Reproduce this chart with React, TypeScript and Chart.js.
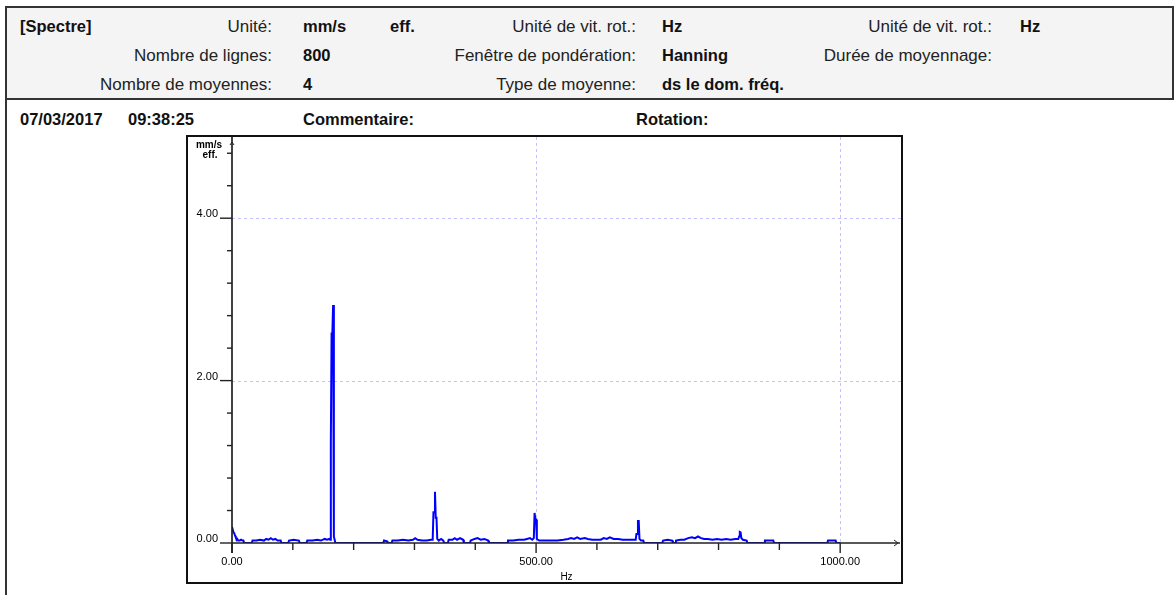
import React, { useEffect, useRef } from "react";
import { Chart, registerables } from "chart.js";

Chart.register(...registerables);

// ---- Data ----
const frequencies: number[] = [
  0, 1.25, 2.5, 3.75, 5, 6.25, 7.5, 8.75, 10, 12.5, 15, 17.5, 18.75, 20,
  32.5, 33.75, 40, 46.25, 52.5, 56.25, 60, 63.75, 67.5, 71.25, 75, 80, 81.25,
  92.5, 93.75, 101.25, 110, 111.25,
  122.5, 123.75, 132.5, 140, 146.25, 152.5, 156.25, 160, 161.25,
  162.5, 163.75, 165, 166.25, 167.5, 168.75, 170,
  248.75, 250, 255, 256.25,
  262.5, 263.75, 272.5, 281.25, 290, 297.5, 301.25, 305, 312.5, 320, 327.5, 330,
  331.25, 332.5, 333.75, 335, 336.25, 337.5, 340, 343.75, 347.5, 348.75,
  355, 356.25, 362.5, 366.25, 370, 375, 380, 381.25,
  391.25, 392.5, 398.75, 403.75, 408.75, 415, 421.25, 422.5,
  452.5, 453.75, 462.5, 471.25, 480, 485, 490, 493.75, 496.25,
  497.5, 498.75, 500, 501.25,
  505, 515, 525, 535, 545, 552.5, 557.5, 562.5, 567.5, 572.5, 580, 585, 592.5,
  600, 606.25, 611.25, 616.25, 621.25, 627.5, 635, 642.5, 650, 657.5, 663.75,
  665, 666.25, 667.5, 668.75, 670, 672.5, 676.25, 677.5,
  707.5, 708.75, 716.25, 723.75, 725,
  728.75, 730, 737.5, 743.75, 750, 756.25, 761.25, 766.25, 771.25, 776.25,
  782.5, 790, 797.5, 805, 812.5, 820, 827.5, 832.5,
  833.75, 835, 836.25, 837.5, 840, 846.25, 847.5,
  875, 876.25, 890, 891.25,
  978.75, 980, 992.5, 993.75, 1000,
];

const amplitudes: number[] = [
  0.2, 0.2, 0.13, 0.12, 0.09, 0.07, 0.04, 0.05, 0.03, 0.03, 0.04, 0.03, 0.03, 0,
  0, 0.03, 0.03, 0.04, 0.03, 0.05, 0.04, 0.06, 0.04, 0.05, 0.03, 0.03, 0,
  0, 0.03, 0.04, 0.03, 0,
  0, 0.03, 0.03, 0.04, 0.03, 0.05, 0.04, 0.05, 0.04,
  1.24, 2.58, 2.58, 2.93, 0.08, 0.04, 0,
  0, 0.03, 0.02, 0,
  0, 0.03, 0.03, 0.04, 0.03, 0.04, 0.06, 0.04, 0.03, 0.03, 0.04, 0.04,
  0.38, 0.38, 0.63, 0.31, 0.31, 0.05, 0.03, 0.05, 0.03, 0,
  0, 0.04, 0.04, 0.06, 0.04, 0.06, 0.04, 0,
  0, 0.03, 0.05, 0.06, 0.04, 0.05, 0.03, 0,
  0, 0.03, 0.03, 0.04, 0.04, 0.05, 0.06, 0.04, 0.06,
  0.37, 0.29, 0.29, 0.05,
  0.03, 0.03, 0.03, 0.03, 0.04, 0.05, 0.06, 0.05, 0.07, 0.05, 0.06, 0.05, 0.04,
  0.04, 0.04, 0.06, 0.05, 0.07, 0.05, 0.05, 0.04, 0.04, 0.04, 0.04,
  0.11, 0.11, 0.27, 0.27, 0.05, 0.03, 0.03, 0,
  0, 0.03, 0.04, 0.03, 0,
  0, 0.03, 0.04, 0.04, 0.06, 0.07, 0.06, 0.08, 0.06, 0.05,
  0.05, 0.04, 0.05, 0.04, 0.05, 0.04, 0.05, 0.05,
  0.08, 0.135, 0.13, 0.06, 0.04, 0.03, 0,
  0, 0.03, 0.03, 0,
  0, 0.03, 0.03, 0, 0,
];

const xTickValues: number[] = [0, 100, 200, 300, 400, 500, 600, 700, 800, 900, 1000];
const xLabelValues: number[] = [0, 500, 1000];
const yTickValues: number[] = [0, 0.4, 0.8, 1.2, 1.6, 2, 2.4, 2.8, 3.2, 3.6, 4, 4.4, 4.8];
const yLabelValues: number[] = [0, 2, 4];
const xMax = 1100;
const yMax = 5;

const unitLines: string[] = ["mm/s", "eff."];
const xUnit = "Hz";

const FONT = "'Liberation Sans', Arial, sans-serif";

const decorPlugin = {
  id: "decor",
  beforeDatasetsDraw(chart: any) {
    const { ctx, chartArea: ca, scales } = chart;
    const x = scales.x;
    const y = scales.y;
    ctx.save();
    ctx.strokeStyle = "rgba(120,120,255,0.45)";
    ctx.lineWidth = 1;
    ctx.setLineDash([3, 3]);
    for (const v of xLabelValues) {
      if (v === 0) continue;
      const px = Math.round(x.getPixelForValue(v)) + 0.5;
      ctx.beginPath();
      ctx.moveTo(px, ca.top);
      ctx.lineTo(px, ca.bottom);
      ctx.stroke();
    }
    for (const v of yLabelValues) {
      if (v === 0) continue;
      const py = Math.round(y.getPixelForValue(v)) + 0.5;
      ctx.beginPath();
      ctx.moveTo(ca.left, py);
      ctx.lineTo(ca.right, py);
      ctx.stroke();
    }
    ctx.restore();
  },
  afterDatasetsDraw(chart: any) {
    const { ctx, chartArea: ca, scales } = chart;
    const x = scales.x;
    const y = scales.y;
    const x0 = x.getPixelForValue(0);
    const y0 = y.getPixelForValue(0);
    ctx.save();
    ctx.strokeStyle = "#222";
    ctx.lineWidth = 1.7;
    ctx.setLineDash([]);
    // axes
    ctx.beginPath();
    ctx.moveTo(x0, ca.top);
    ctx.lineTo(x0, y0 + 10);
    ctx.moveTo(x0, y0);
    ctx.lineTo(ca.right - 1, y0);
    ctx.stroke();
    // ticks
    ctx.lineWidth = 1.4;
    for (const v of xTickValues) {
      const px = x.getPixelForValue(v);
      const len = xLabelValues.includes(v) ? 10 : 7;
      ctx.beginPath();
      ctx.moveTo(px, y0);
      ctx.lineTo(px, y0 + len);
      ctx.stroke();
    }
    for (const v of yTickValues) {
      const py = y.getPixelForValue(v);
      const len = yLabelValues.includes(v) ? 12 : 5;
      ctx.beginPath();
      ctx.moveTo(x0 - len, py);
      ctx.lineTo(x0, py);
      ctx.stroke();
    }
    // arrows
    ctx.lineWidth = 1;
    ctx.beginPath();
    ctx.moveTo(x0 - 2, ca.top + 8);
    ctx.lineTo(x0, ca.top + 5);
    ctx.lineTo(x0 + 2, ca.top + 8);
    ctx.stroke();
    ctx.beginPath();
    ctx.moveTo(ca.right - 7, y0 - 3);
    ctx.lineTo(ca.right - 3, y0);
    ctx.lineTo(ca.right - 7, y0 + 3);
    ctx.stroke();
    // unit texts
    ctx.fillStyle = "#000";
    ctx.font = `bold 10px ${FONT}`;
    ctx.textAlign = "center";
    ctx.textBaseline = "middle";
    ctx.fillText(unitLines[0], x0 - 23, ca.top + 8);
    ctx.fillText(unitLines[1], x0 - 22, ca.top + 18);
    ctx.font = `10px ${FONT}`;
    ctx.fillText(xUnit, (ca.left + ca.right) / 2, ca.bottom + 34);
    ctx.restore();
  },
};

function SpectrumChart() {
  const ref = useRef<HTMLCanvasElement | null>(null);
  useEffect(() => {
    if (!ref.current) return;
    const points = frequencies.map((f, i) => ({ x: f, y: amplitudes[i] }));
    const chart = new Chart(ref.current, {
      type: "line",
      data: {
        datasets: [
          {
            data: points,
            borderColor: "#0000ff",
            borderWidth: 2,
            pointRadius: 0,
            tension: 0,
            fill: false,
          },
        ],
      },
      options: {
        animation: false,
        responsive: false,
        maintainAspectRatio: false,
        events: [],
        layout: { padding: 0 },
        plugins: {
          legend: { display: false },
          tooltip: { enabled: false },
          title: { display: false },
        },
        scales: {
          x: {
            type: "linear",
            min: 0,
            max: xMax,
            grid: { display: false, drawTicks: false },
            border: { display: false },
            afterBuildTicks: (scale: any) => {
              scale.ticks = xTickValues.map((v) => ({ value: v }));
            },
            afterFit: (scale: any) => {
              scale.height = 39;
              scale.paddingLeft = 0;
              scale.paddingRight = 0;
              scale.paddingTop = 0;
              scale.paddingBottom = 0;
            },
            ticks: {
              autoSkip: false,
              maxRotation: 0,
              padding: 12,
              color: "#000",
              font: { family: FONT, size: 11 },
              callback: (v: any) => (xLabelValues.includes(Number(v)) ? Number(v).toFixed(2) : ""),
            },
          },
          y: {
            type: "linear",
            min: 0,
            max: yMax,
            grid: { display: false, drawTicks: false },
            border: { display: false },
            afterBuildTicks: (scale: any) => {
              scale.ticks = yTickValues.map((v) => ({ value: v }));
            },
            afterFit: (scale: any) => {
              scale.width = 44;
              scale.paddingLeft = 0;
              scale.paddingRight = 0;
              scale.paddingTop = 0;
              scale.paddingBottom = 0;
            },
            ticks: {
              autoSkip: false,
              padding: 14,
              labelOffset: -4,
              color: "#000",
              font: { family: FONT, size: 11 },
              callback: (v: any) => (yLabelValues.includes(Number(v)) ? Number(v).toFixed(2) : ""),
            },
          },
        },
      },
      plugins: [decorPlugin],
    } as any);
    return () => chart.destroy();
  }, []);
  return <canvas ref={ref} width={713} height={445} style={{ display: "block", width: 713, height: 445 }} />;
}

type Txt = { t: string; x: number; y: number; b?: boolean; r?: boolean };

const headerTexts: Txt[] = [
  { t: "[Spectre]", x: 20, y: 26, b: true },
  { t: "Unité:", x: 272, y: 26, r: true },
  { t: "mm/s", x: 303, y: 26, b: true },
  { t: "eff.", x: 390, y: 26, b: true },
  { t: "Unité de vit. rot.:", x: 636, y: 26, r: true },
  { t: "Hz", x: 662, y: 26, b: true },
  { t: "Unité de vit. rot.:", x: 992, y: 26, r: true },
  { t: "Hz", x: 1020, y: 26, b: true },
  { t: "Nombre de lignes:", x: 272, y: 55, r: true },
  { t: "800", x: 303, y: 55, b: true },
  { t: "Fenêtre de pondération:", x: 636, y: 55, r: true },
  { t: "Hanning", x: 662, y: 55, b: true },
  { t: "Durée de moyennage:", x: 992, y: 55, r: true },
  { t: "Nombre de moyennes:", x: 272, y: 84, r: true },
  { t: "4", x: 303, y: 84, b: true },
  { t: "Type de moyenne:", x: 636, y: 84, r: true },
  { t: "ds le dom. fréq.", x: 662, y: 84, b: true },
  { t: "07/03/2017", x: 20, y: 119, b: true },
  { t: "09:38:25", x: 128, y: 119, b: true },
  { t: "Commentaire:", x: 303, y: 119, b: true },
  { t: "Rotation:", x: 636, y: 119, b: true },
];

export default function App() {
  return (
    <div
      style={{
        position: "absolute",
        left: 0,
        top: 0,
        width: 1175,
        height: 595,
        overflow: "hidden",
        background: "#fff",
        fontFamily: FONT,
      }}
    >
      <div
        style={{
          position: "absolute",
          left: 5,
          top: 6,
          width: 1169,
          height: 94,
          boxSizing: "border-box",
          border: "2px solid #333",
          background: "#f4f4f4",
        }}
      />
      <div
        style={{
          position: "absolute",
          left: 5,
          top: 98,
          width: 2,
          height: 520,
          background: "#333",
        }}
      />
      {headerTexts.map((d, i) => (
        <span
          key={i}
          style={{
            position: "absolute",
            top: d.y - 9.5,
            lineHeight: "19px",
            fontSize: d.b ? 16.5 : 17,
            whiteSpace: "nowrap",
            fontWeight: d.b ? 700 : 400,
            color: d.b ? "#111" : "#222",
            ...(d.r ? { right: 1175 - d.x } : { left: d.x }),
          }}
        >
          {d.t}
        </span>
      ))}
      <div
        style={{
          position: "absolute",
          left: 186,
          top: 135,
          width: 717,
          height: 449,
          boxSizing: "border-box",
          border: "2px solid #111",
          background: "#fff",
        }}
      >
        <SpectrumChart />
      </div>
    </div>
  );
}
